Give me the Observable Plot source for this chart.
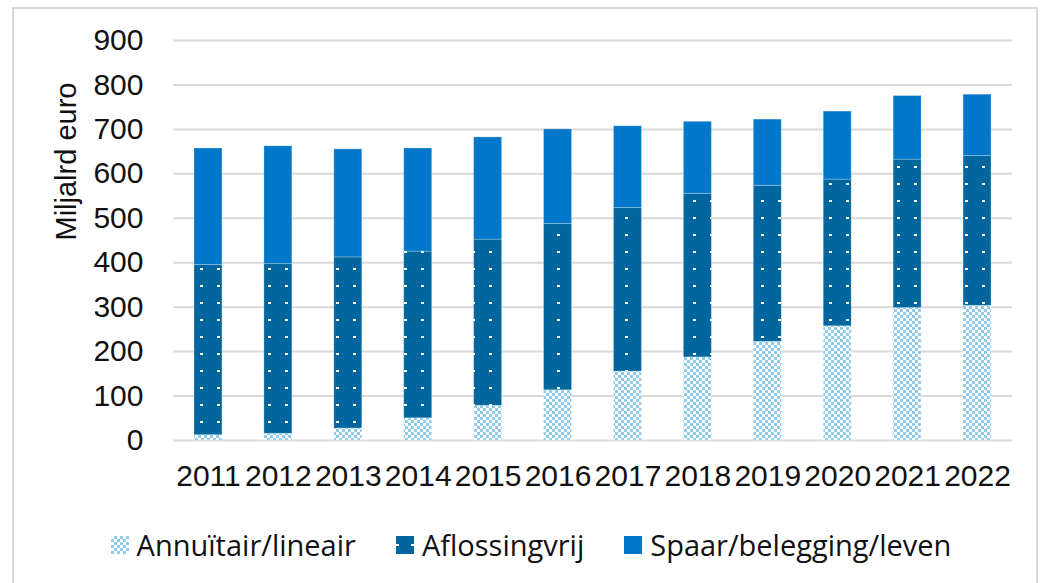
<!DOCTYPE html>
<html>
<head>
<meta charset="utf-8">
<script src="https://cdn.jsdelivr.net/npm/d3@7"></script>
<script src="https://cdn.jsdelivr.net/npm/@observablehq/plot@0.6"></script>
<style>
  html, body { margin: 0; padding: 0; background: #fff; }
  #frame { position: absolute; left: 12px; top: 7px; width: 1026px; height: 590px; border: 2px solid #d9d9d9; box-sizing: border-box; }
  #chart { position: absolute; left: 0; top: 0; }
  #legend { position: absolute; left: 0; top: 525px; width: 1062px; display: flex; justify-content: center; font-family: "Open Sans", "Liberation Sans", sans-serif; font-size: 29px; color: #111; }
  .item { display: flex; align-items: center; margin: 0 20px; }
  .item svg { margin-right: 8px; }
</style>
</head>
<body>
<div id="frame"></div>
<div id="chart"></div>
<div id="legend"></div>
<script>
const years = ["2011","2012","2013","2014","2015","2016","2017","2018","2019","2020","2021","2022"];
const series = ["Annuïtair/lineair", "Aflossingvrij", "Spaar/belegging/leven"];
const annuitair     = [12, 15, 27, 50, 78, 113, 155, 187, 222, 257, 298, 303];
const aflossingvrij = [383, 382, 385, 375, 374, 374, 368, 368, 351, 330, 334, 337];
const spaar         = [262, 265, 243, 232, 230, 213, 184, 162, 149, 153, 143, 138];
const yTicks = [0, 100, 200, 300, 400, 500, 600, 700, 800, 900];
const yLabel = "Miljalrd euro";

const colors = ["url(#checker)", "url(#dots)", "#0077C8"];
const seriesValues = [annuitair, aflossingvrij, spaar];
const table = series.flatMap((s, i) => years.map((y, j) => ({year: y, series: s, value: seriesValues[i][j]})));

const defs = `
<pattern id="checker" patternUnits="userSpaceOnUse" width="6" height="6">
  <rect width="6" height="6" fill="#8FCBEA"/>
  <rect x="0" y="0" width="3" height="3" fill="#ffffff"/>
  <rect x="3" y="3" width="3" height="3" fill="#ffffff"/>
</pattern>
<pattern id="dots" patternUnits="userSpaceOnUse" width="17" height="17">
  <rect width="17" height="17" fill="#00669D"/>
  <rect x="13" y="13" width="3" height="2" fill="#ffffff"/>
</pattern>`;

const font = "'Liberation Sans', Arial, sans-serif";
const chart = Plot.plot({
  width: 1043,
  height: 500,
  marginLeft: 173,
  marginRight: 31,
  marginTop: 40,
  marginBottom: 60,
  style: {fontFamily: font, fontSize: "30px", color: "#111", background: "transparent"},
  x: {domain: years, paddingInner: 0.6, paddingOuter: 0.3, round: false, label: null},
  y: {domain: [0, 900], label: null},
  color: {domain: series, range: colors},
  marks: [
    Plot.gridY(yTicks, {stroke: "#d9d9d9", strokeOpacity: 1, strokeWidth: 2}),
    Plot.barY(table, {x: "year", y: "value", fill: "series", order: series, stroke: "#ffffff", strokeOpacity: 0.25, strokeWidth: 1}),
    Plot.axisY(yTicks, {tickSize: 0, tickPadding: 30, label: null, fontSize: 30}),
    Plot.axisX({tickSize: 0, tickPadding: 24, label: null, fontSize: 30}),
    Plot.text([yLabel], {frameAnchor: "left", dx: -107, rotate: -90, fontSize: 29, text: d => d, fill: "#111"})
  ]
});
const defsEl = document.createElementNS("http://www.w3.org/2000/svg", "defs");
defsEl.innerHTML = defs;
chart.insertBefore(defsEl, chart.firstChild);
document.getElementById("chart").appendChild(chart);

// legend
const legend = d3.select("#legend");
series.forEach((s, i) => {
  const item = legend.append("div").attr("class", "item");
  const sw = item.append("svg").attr("width", 18).attr("height", 18);
  if (i === 0) {
    sw.append("defs").html(`<pattern id="lchk" patternUnits="userSpaceOnUse" width="6" height="6"><rect width="6" height="6" fill="#8FCBEA"/><rect width="3" height="3" fill="#fff"/><rect x="3" y="3" width="3" height="3" fill="#fff"/></pattern>`);
    sw.append("rect").attr("width", 18).attr("height", 18).attr("fill", "url(#lchk)");
  } else if (i === 1) {
    sw.append("rect").attr("width", 18).attr("height", 18).attr("fill", "#00669D");
    sw.append("rect").attr("x", 0).attr("y", 8).attr("width", 3).attr("height", 2).attr("fill", "#fff");
    sw.append("rect").attr("x", 15).attr("y", 8).attr("width", 3).attr("height", 2).attr("fill", "#fff");
  } else {
    sw.append("rect").attr("width", 18).attr("height", 18).attr("fill", colors[2]);
  }
  item.append("span").text(s);
});
</script>
</body>
</html>
